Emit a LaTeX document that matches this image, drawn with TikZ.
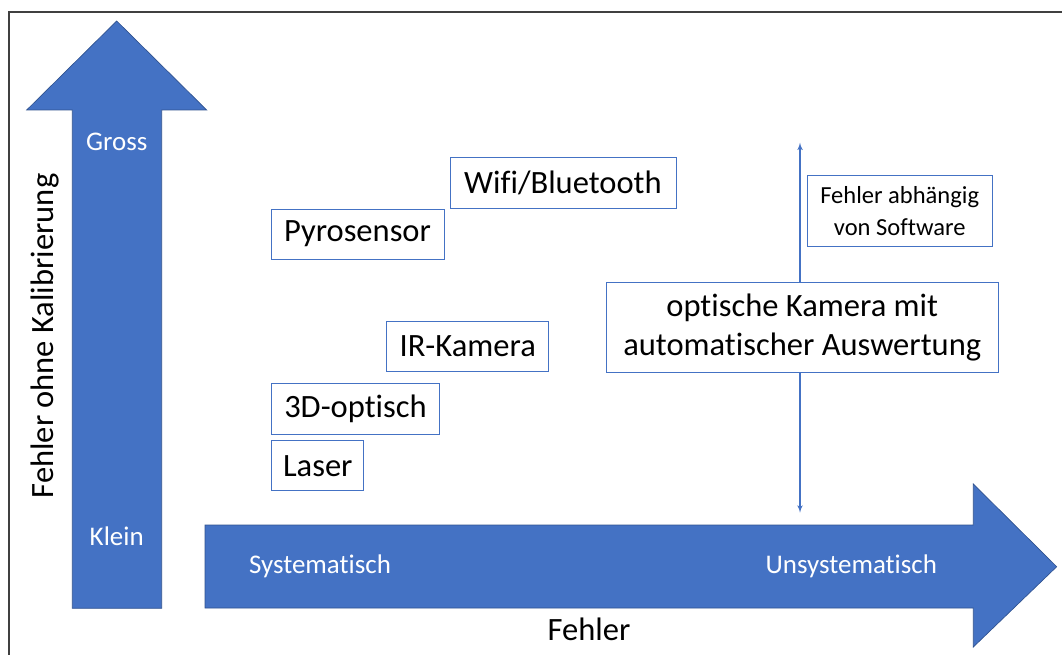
\documentclass[tikz,border=0pt]{standalone}
\usepackage{fontspec}
\setmainfont{Carlito}[Ligatures={NoCommon}]
\usetikzlibrary{arrows}
\usetikzlibrary{positioning}
\definecolor{axisblue}{HTML}{4472C4}
\definecolor{axisedge}{HTML}{2F528F}
\definecolor{framegrey}{HTML}{404040}
\tikzset{bigarrow/.style = {fill=axisblue, draw=axisedge, line width=0.5pt}}
\tikzset{tagbox/.style = {draw=axisblue, fill=white, line width=0.6pt,
                          inner sep=0pt, align=center,
                          font=\fontsize{24.4}{29.5}\selectfont}}
\tikzset{axislabel/.style = {text=white, font=\fontsize{20.2}{24}\selectfont}}
\tikzset{titlelabel/.style = {font=\fontsize{24.4}{29.5}\selectfont, anchor=base}}

\begin{document}
\begin{tikzpicture}[x=0.75pt, y=-0.75pt]
    \useasboundingbox (0, 0) rectangle (1062, 655);
    \draw [framegrey, line width=0.8pt] (9, 655) -- (9, 12) -- (1062, 12);

    \draw [bigarrow] (72.3, 608.3) -- (72.3, 110) -- (26.7, 110) -- (116.7, 21)
      -- (206.7, 110) -- (161.7, 110) -- (161.7, 608.3) -- cycle;
    \draw [bigarrow] (205, 525) -- (973.3, 525) -- (973.3, 484) -- (1056.7, 566.7)
      -- (973.3, 647) -- (973.3, 608) -- (205, 608) -- cycle;

    \node [axislabel] (gross) at (116.7, 141.5) {Gross};
    \node [axislabel] (klein) at (116.7, 536) {Klein};
    \node [axislabel, anchor=base] (syst) at (320, 573.3) {Systematisch};
    \node [axislabel, anchor=base] (unsyst) at (851.3, 573.3) {Unsystematisch};

    \node [titlelabel] (xtitle) at (589, 640.7) {Fehler};
    \node [titlelabel, rotate=90] (ytitle) at (53.3, 336) {Fehler ohne Kalibrierung};

    \coordinate (swtop) at (800, 142.7);
    \coordinate (swbot) at (800, 512.7);
    \draw [axisblue, line width=0.9pt, latex'-latex'] (swtop) -- (swbot);

    \node [tagbox, minimum width=169.5pt, minimum height=38.25pt] (wifi) at (563, 182.5) {Wifi/Bluetooth};
    \node [tagbox, minimum width=129.75pt, minimum height=37.5pt] (pyro) at (357.5, 234) {Pyrosensor};
    \node [tagbox, minimum width=121.5pt, minimum height=37.5pt] (irkam) at (467.7, 346.2) {IR-Kamera};
    \node [tagbox, minimum width=126pt, minimum height=38pt] (optisch) at (355.5, 409) {3D-optisch};
    \node [tagbox, minimum width=69pt, minimum height=37.5pt] (laser) at (317.8, 465.8) {Laser};
    \node [tagbox, minimum width=138.75pt, minimum height=53.25pt,
           font=\fontsize{18.4}{23.5}\selectfont] (software) at (899.7, 211.2) {Fehler abhängig\\von Software};
    \node [tagbox, minimum width=294pt, minimum height=67.5pt] (kamera) at (802.2, 327.8)
      {optische Kamera mit\\automatischer Auswertung};
\end{tikzpicture}
\end{document}
